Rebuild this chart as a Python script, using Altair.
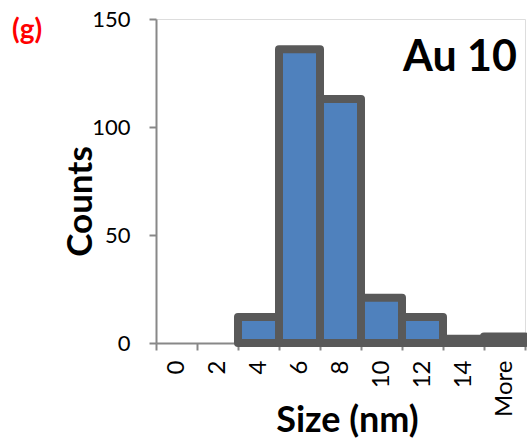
import altair as alt
import pandas as pd

bins = ["0", "2", "4", "6", "8", "10", "12", "14", "More"]
counts = [0, 0, 12, 136, 113, 21, 12, 2, 3]

df = pd.DataFrame({"bin": bins, "count": counts})

FONT = "Lato"
AXIS_GRAY = "#888888"

bars = alt.Chart(df).transform_filter("datum.count > 0").mark_bar(
    color="#4F81BD", stroke="#595959", strokeWidth=8, strokeJoin="round"
).encode(
    x=alt.X("bin:N", sort=bins, title="Size (nm)",
            scale=alt.Scale(domain=bins, paddingInner=0, paddingOuter=0),
            axis=alt.Axis(labelAngle=-90, labelFontSize=24, labelFont=FONT,
                          labelColor="black", labelAlign="right", labelBaseline="middle",
                          labelPadding=10, tickBand="extent", tickSize=7,
                          tickColor=AXIS_GRAY, domainColor=AXIS_GRAY, domainWidth=2,
                          tickWidth=2, titleFont=FONT, titleFontSize=36,
                          titleFontWeight="bold", titleColor="black",
                          titleBaseline="alphabetic", titleY=88, titleX=191)),
    y=alt.Y("count:Q", title="Counts",
            scale=alt.Scale(domain=[0, 150], nice=False),
            axis=alt.Axis(values=[0, 50, 100, 150], labelFontSize=22, labelFont=FONT,
                          labelColor="black", labelPadding=19, tickSize=7,
                          tickColor=AXIS_GRAY, domainColor=AXIS_GRAY, domainWidth=2,
                          tickWidth=2, grid=False, titleFont=FONT, titleFontSize=35,
                          titleFontWeight="bold", titleColor="black", titleY=182,
                          titleX=-58, titleBaseline="bottom")),
)

label_g = alt.Chart(pd.DataFrame({"t": ["(g)"]})).mark_text(
    font=FONT, fontSize=28, fontWeight="bold", color="#FF0000", align="left", baseline="middle"
).encode(text="t:N", x=alt.value(-144), y=alt.value(12))

label_au = alt.Chart(pd.DataFrame({"t": ["Au 10"]})).mark_text(
    font=FONT, fontSize=43, fontWeight="bold", color="black", align="right", baseline="middle"
).encode(text="t:N", x=alt.value(361), y=alt.value(39))

chart = alt.layer(bars, label_g, label_au).properties(
    width=369, height=324,
    padding={"left": 156, "top": 19, "right": 2, "bottom": 95},
    autosize=alt.AutoSizeParams(type="none"),
).configure_view(stroke=None).configure(background="white")

chart.save("out.html", embed_options={"renderer": "svg", "actions": False})
